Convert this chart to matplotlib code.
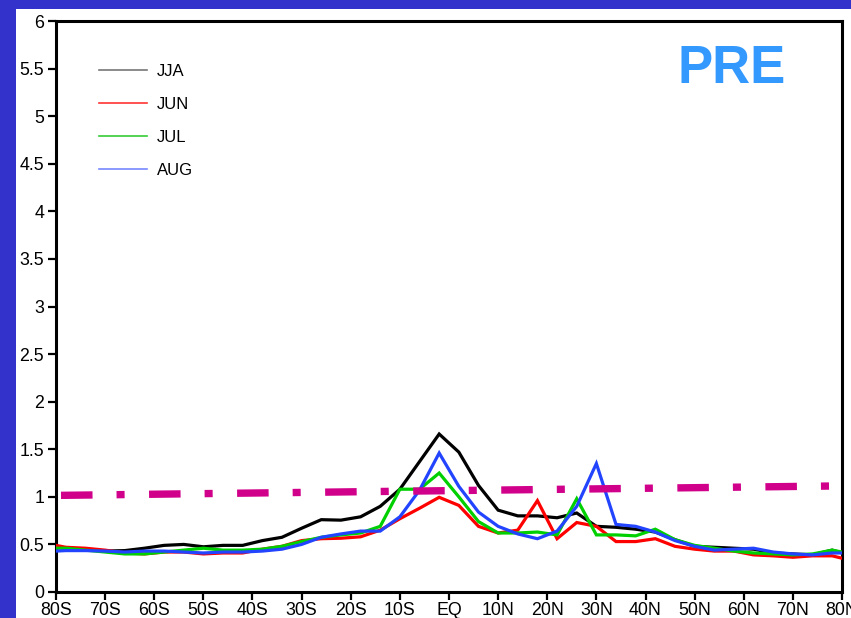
import matplotlib
matplotlib.use("Agg")
import matplotlib.pyplot as plt
from matplotlib.patches import Rectangle
from matplotlib.lines import Line2D

lat = [-80, -78, -74, -70, -66, -62, -58, -54, -50, -46, -42, -38, -34, -30, -26, -22,
       -18, -14, -10, -6, -2, 2, 6, 10, 14, 18, 22, 26, 30, 34, 38, 42, 46, 50, 54, 58,
       62, 66, 70, 74, 78, 80]

jja = [0.47, 0.46, 0.445, 0.43, 0.435, 0.46, 0.49, 0.50, 0.475, 0.49, 0.49, 0.54, 0.575,
       0.67, 0.76, 0.755, 0.79, 0.90, 1.08, 1.37, 1.66, 1.47, 1.12, 0.86, 0.80, 0.80,
       0.78, 0.83, 0.69, 0.68, 0.66, 0.63, 0.55, 0.48, 0.47, 0.46, 0.45, 0.41, 0.40,
       0.39, 0.44, 0.41]
jun = [0.49, 0.47, 0.46, 0.44, 0.41, 0.40, 0.42, 0.42, 0.40, 0.41, 0.41, 0.45, 0.48,
       0.54, 0.56, 0.565, 0.58, 0.65, 0.77, 0.88, 0.995, 0.91, 0.69, 0.62, 0.65, 0.96,
       0.56, 0.73, 0.69, 0.53, 0.53, 0.56, 0.48, 0.45, 0.43, 0.43, 0.39, 0.38, 0.365,
       0.38, 0.38, 0.355]
jul = [0.46, 0.46, 0.44, 0.42, 0.40, 0.40, 0.42, 0.44, 0.46, 0.44, 0.44, 0.45, 0.48,
       0.53, 0.575, 0.60, 0.62, 0.69, 1.08, 1.08, 1.25, 1.00, 0.74, 0.62, 0.62, 0.63,
       0.60, 0.98, 0.60, 0.60, 0.59, 0.66, 0.55, 0.49, 0.46, 0.43, 0.41, 0.40, 0.39,
       0.40, 0.44, 0.42]
aug = [0.43, 0.435, 0.435, 0.43, 0.42, 0.43, 0.43, 0.42, 0.41, 0.42, 0.42, 0.43, 0.45,
       0.50, 0.575, 0.61, 0.64, 0.64, 0.79, 1.07, 1.46, 1.11, 0.84, 0.69, 0.61, 0.56,
       0.64, 0.90, 1.35, 0.71, 0.69, 0.63, 0.54, 0.48, 0.44, 0.45, 0.46, 0.42, 0.40,
       0.39, 0.41, 0.41]

trend_lat = [-80, 80]
trend_val = [1.015, 1.115]

xticks = [-80, -70, -60, -50, -40, -30, -20, -10, 0, 10, 20, 30, 40, 50, 60, 70, 80]
xticklabels = ['80S', '70S', '60S', '50S', '40S', '30S', '20S', '10S', 'EQ',
               '10N', '20N', '30N', '40N', '50N', '60N', '70N', '80N']
yticks = [0, 0.5, 1, 1.5, 2, 2.5, 3, 3.5, 4, 4.5, 5, 5.5, 6]
yticklabels = ['0', '0.5', '1', '1.5', '2', '2.5', '3', '3.5', '4', '4.5', '5', '5.5', '6']

series_names = ['JJA', 'JUN', 'JUL', 'AUG']

plt.rcParams['font.family'] = ['Liberation Sans', 'DejaVu Sans']
plt.rcParams['lines.scale_dashes'] = False

W, H = 851, 618
fig = plt.figure(figsize=(W / 100, H / 100), dpi=100)
fig.patch.set_facecolor('#3333CC')
fig.patches.append(Rectangle((16 / W, 0), 1 - 16 / W, (H - 9) / H,
                             transform=fig.transFigure, facecolor='white',
                             edgecolor='none', zorder=-10))

ax = fig.add_axes([56 / W, 26 / H, (842 - 56) / W, (592 - 21) / H])
ax.set_facecolor('white')

colors = ['black', '#FF0000', '#00D000', '#2244FF']
lw = 2.3
for vals, c in zip([jja, jun, jul, aug], colors):
    ax.plot(lat, vals, color=c, lw=lw, solid_joinstyle='miter', zorder=3)

# dash-dot trend line (pattern in points)
ax.plot(trend_lat, trend_val, color='#D1008A', lw=5.3, solid_capstyle='butt',
        dash_capstyle='butt',
        linestyle=(59.8, (22.7, 17.3, 5.8, 17.6)), zorder=5)

ax.set_xlim(-80, 80)
ax.set_ylim(0, 6)
ax.set_xticks(xticks)
ax.set_xticklabels(xticklabels)
ax.set_yticks(yticks)
ax.set_yticklabels(yticklabels)
ax.tick_params(axis='both', direction='out', length=5.5, width=1.6, labelsize=12.8,
               colors='black')
ax.tick_params(axis='y', pad=3)
ax.tick_params(axis='x', pad=2)
for s in ax.spines.values():
    s.set_linewidth(2.2)
    s.set_color('black')

# legend
leg_colors = ['#777777', '#FF3333', '#33CC33', '#7788FF']
handles = [Line2D([], [], color=c, lw=1.2) for c in leg_colors]
ax.legend(handles, series_names, loc='upper left', bbox_to_anchor=(0.046, 0.937),
          frameon=False, fontsize=12, handlelength=2.87, handletextpad=0.6,
          labelspacing=1.09, borderaxespad=0)

ax.text(0.859, 0.916, 'PRE', transform=ax.transAxes, ha='center', va='center',
        fontsize=38, fontweight='bold', color='#3399FF')

fig.savefig('out.png', dpi=100, facecolor=fig.get_facecolor())
